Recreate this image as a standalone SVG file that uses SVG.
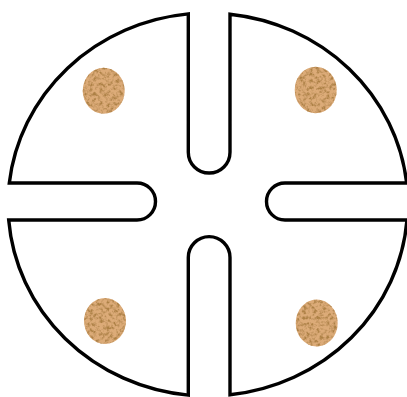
<svg xmlns="http://www.w3.org/2000/svg" width="407" height="397" viewBox="0 0 407 397">
  <defs>
    <filter id="cork" x="-10%" y="-10%" width="120%" height="120%">
      <feTurbulence type="fractalNoise" baseFrequency="0.3" numOctaves="3" seed="7" result="noise"/>
      <feColorMatrix in="noise" type="matrix" values="0 0 0 0 0.42  0 0 0 0 0.22  0 0 0 0 0.06  -3 0 0 0 1.75" result="spots"/>
      <feComposite in="spots" in2="SourceGraphic" operator="in" result="clipped"/>
      <feMerge>
        <feMergeNode in="SourceGraphic"/>
        <feMergeNode in="clipped"/>
      </feMerge>
    </filter>
  </defs>
  <style>
    .outline { fill: #ffffff; stroke: #000000; stroke-width: 3.4; stroke-linejoin: miter; }
    .dot { fill: #dcab78; filter: url(#cork); }
  </style>
  <rect width="407" height="397" fill="#ffffff"/>
  <g id="disc">
    <path class="outline" d="M188.3,13.9 L188.3,152.2 A20.8,20.8 0 0 0 230,152.2 L230,14.2 A200,191.5 0 0 1 406.7,183 L285,183 A18.5,18.5 0 0 0 285,220 L407,220 A200,191.5 0 0 1 230,394.8 L230,257.5 A20.8,20.8 0 0 0 188.3,257.5 L188.3,395.1 A200,191.5 0 0 1 8.7,220 L137,220 A18.5,18.5 0 0 0 137,183 L9.3,183 A200,191.5 0 0 1 188.3,13.9 Z"/>
  </g>
  <g id="cork-top-left"><ellipse class="dot" cx="103.7" cy="90.8" rx="21" ry="23"/></g>
  <g id="cork-top-right"><ellipse class="dot" cx="315.7" cy="90" rx="21" ry="23.3"/></g>
  <g id="cork-bottom-left"><ellipse class="dot" cx="105" cy="321" rx="21" ry="23"/></g>
  <g id="cork-bottom-right"><ellipse class="dot" cx="316.7" cy="323" rx="21" ry="23.5"/></g>
</svg>
